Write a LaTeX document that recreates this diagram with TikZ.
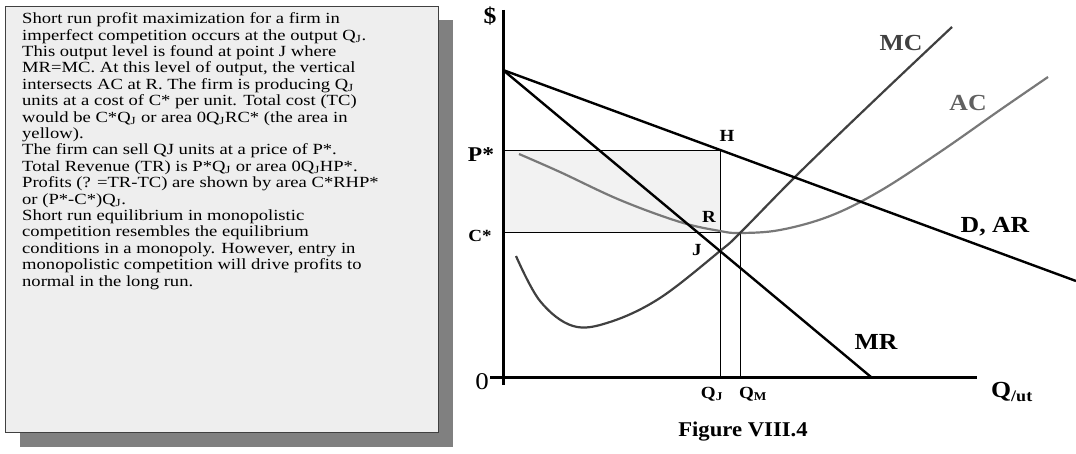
\documentclass[tikz,border=0pt]{standalone}
\usepackage{fontspec}
\setmainfont{Liberation Serif}
\usepackage{xcolor}
\usetikzlibrary{positioning}

\definecolor{boxfill}{HTML}{EEEEEE}
\definecolor{boxshadow}{HTML}{808080}
\definecolor{areafill}{HTML}{F2F2F2}
\definecolor{mcgray}{HTML}{404040}
\definecolor{acgray}{HTML}{787878}

% slightly widened lettering, as in the figure
\newcommand{\wide}[2][1.12]{\scalebox{#1}[1]{#2}}

\begin{document}
\begin{tikzpicture}[x=1pt, y=-1pt,
    lbl/.style={font=\bfseries\fontsize{17}{17}\selectfont, inner sep=0pt},
    biglbl/.style={font=\bfseries\fontsize{23}{23}\selectfont, inner sep=0pt},
    axisline/.style={line width=3pt},
    demandline/.style={line width=2.4pt},
    thinline/.style={line width=0.9pt},
    costcurve/.style={line width=2.2pt, smooth, tension=0.6}]
    \useasboundingbox (0,0) rectangle (1076,454);

    % Text box with its shadow
    \fill[boxshadow] (20,20) rectangle (453,447);
    \draw[mcgray, fill=boxfill, line width=1pt] (5,7) rectangle (438,432);
    \node[anchor=north west, inner sep=0pt] (notes) at (22,12.5) {%
      \wide[1.2]{\begin{minipage}[t]{330pt}\raggedright
        \fontsize{15.5}{16.4}\selectfont
        Short run profit maximization for a firm in\\
        imperfect competition occurs at the output Q\textsubscript{J}.\\
        This output level is found at point J where\\
        MR=MC. At this level of output, the vertical\\
        intersects AC at R. The firm is producing Q\textsubscript{J}\\
        units at a cost of C* per unit. Total cost (TC)\\
        would be C*Q\textsubscript{J} or area 0Q\textsubscript{J}RC* (the area in\\
        yellow).\\
        The firm can sell QJ units at a price of P*.\\
        Total Revenue (TR) is P*Q\textsubscript{J} or area 0Q\textsubscript{J}HP*.\\
        Profits (? =TR-TC) are shown by area C*RHP*\\
        or (P*-C*)Q\textsubscript{J}.\\
        Short run equilibrium in monopolistic\\
        competition resembles the equilibrium\\
        conditions in a monopoly. However, entry in\\
        monopolistic competition will drive profits to\\
        normal in the long run.
      \end{minipage}}};

    % Key points of the diagram
    \coordinate (O) at (503,377);
    \coordinate (ytop) at (503,10);
    \coordinate (ybot) at (503,385);
    \coordinate (xleft) at (490,377);
    \coordinate (xright) at (977,377);
    \coordinate (Dtop) at (503,70);
    \coordinate (Dend) at (1076,281);
    \coordinate (MRend) at (871,377);
    \coordinate (Pstar) at (503,150);
    \coordinate (Cstar) at (503,232);
    \coordinate (Hpt) at (720,150);
    \coordinate (Rpt) at (720,232);
    \coordinate (QJ) at (720,377);
    \coordinate (Mpt) at (740,233);
    \coordinate (QM) at (740,377);

    % Profit area
    \fill[areafill] (Pstar) rectangle (Rpt);
    \draw[thinline] (Pstar) -- (Hpt) -- (QJ);
    \draw[thinline] (Cstar) -- (Rpt);
    \draw[thinline] (Mpt) -- (QM);

    % AC curve
    \draw[acgray, costcurve] plot coordinates {(519,154) (560,172) (620,200)
        (680,222) (720,231) (740,233) (780,230) (830,216) (880,191) (940,152)
        (1000,110) (1048,77)};
    % MC curve
    \draw[mcgray, costcurve] plot coordinates {(516,256) (540,301) (573,326)
        (610,322) (660,298) (720,251) (740,233) (800,172) (880,95) (952,27)};

    % Demand and marginal revenue
    \draw[demandline] (Dtop) -- (Dend);
    \draw[demandline] (Dtop) -- (MRend);

    % Axes
    \draw[axisline] (ytop) -- (ybot);
    \draw[axisline] (xleft) -- (xright);

    % Labels
    \node[biglbl] (dollar) at (490,16) {\wide{\$}};
    \node[font=\fontsize{24}{24}\selectfont, inner sep=0pt] (zero) at (482,382) {\wide{0}};
    \node[font=\bfseries\fontsize{21}{21}\selectfont, inner sep=0pt] (Plbl) at (481,155) {\wide{P*}};
    \node[lbl] (Clbl) at (480,236) {\wide{C*}};
    \node[lbl] (Hlbl) at (727,136) {\wide{H}};
    \node[lbl] (Rlbl) at (709,217) {\wide{R}};
    \node[lbl] (Jlbl) at (697,250) {\wide{J}};
    \node[lbl] (QJlbl) at (712,394) {\wide{Q\textsubscript{J}}};
    \node[lbl] (QMlbl) at (753,394) {\wide{Q\textsubscript{M}}};
    \node[biglbl] (Qlbl) at (1012,392) {\wide{Q\textsubscript{/ut}}};
    \node[biglbl, mcgray] (MClbl) at (901,43) {\wide{MC}};
    \node[biglbl, acgray!80!black] (AClbl) at (968,103) {\wide{AC}};
    \node[biglbl] (DARlbl) at (995,227) {\wide{D, AR}};
    \node[biglbl] (MRlbl) at (876,342) {\wide{MR}};
    \node[font=\bfseries\fontsize{21}{21}\selectfont, inner sep=0pt] (caption) at (743,432) {\wide[1.08]{Figure VIII.4}};
\end{tikzpicture}
\end{document}
